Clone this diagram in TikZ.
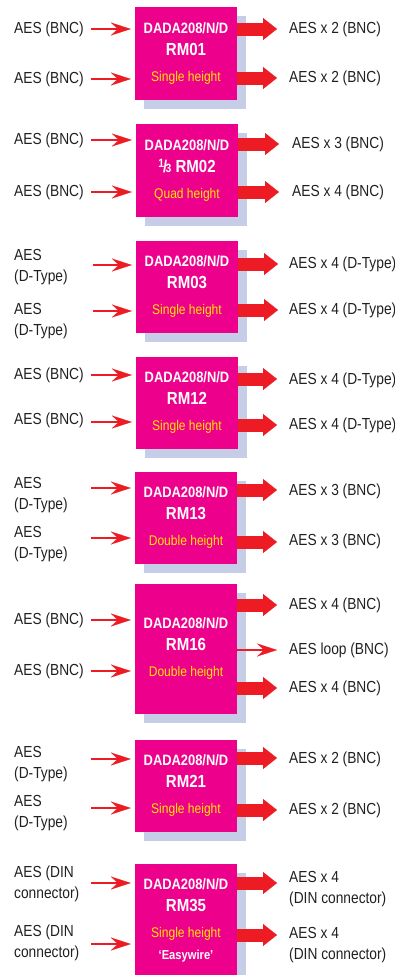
\documentclass[tikz,border=0pt]{standalone}
\usepackage{fontspec}
\setmainfont{Liberation Sans}[FakeStretch=0.86]
\usetikzlibrary{arrows.meta, shadows}
\definecolor{rmmag}{HTML}{EC008C}
\definecolor{rmshade}{HTML}{C5CEE6}
\definecolor{rmred}{HTML}{ED1C24}
\definecolor{rmyellow}{HTML}{FFE600}
\definecolor{rmtext}{HTML}{231F20}
\newcommand{\rmname}[1]{{\fontsize{17.5}{22}\selectfont #1}}
\newcommand{\rmsize}[1]{{\mdseries\fontsize{14}{22}\selectfont\color{rmyellow}#1}}
\newcommand{\third}{\raisebox{4.5pt}{\fontsize{12}{12}\selectfont 1}\kern-1pt{\fontsize{17}{17}\selectfont /}\kern-1.5pt{\fontsize{12}{12}\selectfont 3}}

\begin{document}
\begin{tikzpicture}[x=1pt, y=-1pt,
		unit/.style={rectangle, fill=rmmag, minimum width=102pt, inner sep=0pt, align=center,
			text=white, font=\fontsize{15}{22}\selectfont\bfseries,
			drop shadow={shadow xshift=9pt, shadow yshift=-9pt, fill=rmshade, opacity=1}},
		lbl/.style={anchor=west, inner sep=0pt, align=left, text=rmtext, font=\fontsize{16}{21}\selectfont},
		inarr/.style={draw=rmred, line width=2.5pt, shorten >=4pt,
			-{Stealth[length=20pt, width=13pt, inset=7pt, line width=0.1pt]}},
		outarr/.style={draw=rmred, line width=13pt, -{Triangle[length=14pt, width=22pt, line width=0.1pt]}}
	]
	\useasboundingbox (0,0) rectangle (394,975);

	% RM01
	\node[unit, minimum height=93pt] (rm01) at (186,53.5) {DADA208/N/D\\\rmname{RM01}\\[4pt]\rmsize{Single height}};
	\node[lbl] (rm01la) at (14,29) {AES (BNC)};
	\node[lbl] (rm01lb) at (14,79) {AES (BNC)};
	\coordinate (rm01ia) at (91,29); \coordinate (rm01ib) at (91,79);
	\draw[inarr] (rm01ia) -- (rm01ia -| rm01.west);
	\draw[inarr] (rm01ib) -- (rm01ib -| rm01.west);
	\coordinate (rm01oa) at (277,29); \coordinate (rm01ob) at (277,78);
	\draw[outarr] (rm01oa -| rm01.east) -- (rm01oa);
	\draw[outarr] (rm01ob -| rm01.east) -- (rm01ob);
	\node[lbl] (rm01ra) at (289,29) {AES x 2 (BNC)};
	\node[lbl] (rm01rb) at (289,78) {AES x 2 (BNC)};

	% RM02
	\node[unit, minimum height=93pt] (rm02) at (187,170.5) {DADA208/N/D\\\rmname{\third\ RM02}\\[4pt]\rmsize{Quad height}};
	\node[lbl] (rm02la) at (14,140) {AES (BNC)};
	\node[lbl] (rm02lb) at (14,192) {AES (BNC)};
	\coordinate (rm02ia) at (91,140); \coordinate (rm02ib) at (91,192);
	\draw[inarr] (rm02ia) -- (rm02ia -| rm02.west);
	\draw[inarr] (rm02ib) -- (rm02ib -| rm02.west);
	\coordinate (rm02oa) at (279,144); \coordinate (rm02ob) at (279,192);
	\draw[outarr] (rm02oa -| rm02.east) -- (rm02oa);
	\draw[outarr] (rm02ob -| rm02.east) -- (rm02ob);
	\node[lbl] (rm02ra) at (292,144) {AES x 3 (BNC)};
	\node[lbl] (rm02rb) at (292,192) {AES x 4 (BNC)};

	% RM03
	\node[unit, minimum height=92pt] (rm03) at (187,287) {DADA208/N/D\\\rmname{RM03}\\[4pt]\rmsize{Single height}};
	\node[lbl] (rm03la) at (14,267.5) {AES\\(D-Type)};
	\node[lbl] (rm03lb) at (14,321.5) {AES\\(D-Type)};
	\coordinate (rm03ia) at (93,265); \coordinate (rm03ib) at (93,311);
	\draw[inarr] (rm03ia) -- (rm03ia -| rm03.west);
	\draw[inarr] (rm03ib) -- (rm03ib -| rm03.west);
	\coordinate (rm03oa) at (278,264); \coordinate (rm03ob) at (278,310);
	\draw[outarr] (rm03oa -| rm03.east) -- (rm03oa);
	\draw[outarr] (rm03ob -| rm03.east) -- (rm03ob);
	\node[lbl] (rm03ra) at (289,264) {AES x 4 (D-Type)};
	\node[lbl] (rm03rb) at (289,310) {AES x 4 (D-Type)};

	% RM12
	\node[unit, minimum height=92pt] (rm12) at (187,403) {DADA208/N/D\\\rmname{RM12}\\[4pt]\rmsize{Single height}};
	\node[lbl] (rm12la) at (14,375) {AES (BNC)};
	\node[lbl] (rm12lb) at (14,420) {AES (BNC)};
	\coordinate (rm12ia) at (91,375); \coordinate (rm12ib) at (91,422);
	\draw[inarr] (rm12ia) -- (rm12ia -| rm12.west);
	\draw[inarr] (rm12ib) -- (rm12ib -| rm12.west);
	\coordinate (rm12oa) at (277,379); \coordinate (rm12ob) at (277,425);
	\draw[outarr] (rm12oa -| rm12.east) -- (rm12oa);
	\draw[outarr] (rm12ob -| rm12.east) -- (rm12ob);
	\node[lbl] (rm12ra) at (289,380) {AES x 4 (D-Type)};
	\node[lbl] (rm12rb) at (289,425) {AES x 4 (D-Type)};

	% RM13
	\node[unit, minimum height=92pt] (rm13) at (186,518) {DADA208/N/D\\\rmname{RM13}\\[4pt]\rmsize{Double height}};
	\node[lbl] (rm13la) at (14,495.5) {AES\\(D-Type)};
	\node[lbl] (rm13lb) at (14,544.5) {AES\\(D-Type)};
	\coordinate (rm13ia) at (91,488); \coordinate (rm13ib) at (91,538);
	\draw[inarr] (rm13ia) -- (rm13ia -| rm13.west);
	\draw[inarr] (rm13ib) -- (rm13ib -| rm13.west);
	\coordinate (rm13oa) at (277,490); \coordinate (rm13ob) at (277,542);
	\draw[outarr] (rm13oa -| rm13.east) -- (rm13oa);
	\draw[outarr] (rm13ob -| rm13.east) -- (rm13ob);
	\node[lbl] (rm13ra) at (289,491) {AES x 3 (BNC)};
	\node[lbl] (rm13rb) at (289,541) {AES x 3 (BNC)};

	% RM16
	\node[unit, minimum height=130pt] (rm16) at (186,649) {DADA208/N/D\\\rmname{RM16}\\[4pt]\rmsize{Double height}};
	\node[lbl] (rm16la) at (14,620) {AES (BNC)};
	\node[lbl] (rm16lb) at (14,671) {AES (BNC)};
	\coordinate (rm16ia) at (91,620); \coordinate (rm16ib) at (91,671);
	\draw[inarr] (rm16ia) -- (rm16ia -| rm16.west);
	\draw[inarr] (rm16ib) -- (rm16ib -| rm16.west);
	\coordinate (rm16oa) at (277,605); \coordinate (rm16oc) at (277,650); \coordinate (rm16ob) at (277,688);
	\draw[outarr] (rm16oa -| rm16.east) -- (rm16oa);
	\draw[inarr, shorten >=0pt] (rm16oc -| rm16.east) -- (rm16oc);
	\draw[outarr] (rm16ob -| rm16.east) -- (rm16ob);
	\node[lbl] (rm16ra) at (289,605) {AES x 4 (BNC)};
	\node[lbl] (rm16rc) at (289,650) {AES loop (BNC)};
	\node[lbl] (rm16rb) at (289,688) {AES x 4 (BNC)};

	% RM21
	\node[unit, minimum height=92pt] (rm21) at (186,786) {DADA208/N/D\\\rmname{RM21}\\[4pt]\rmsize{Single height}};
	\node[lbl] (rm21la) at (14,764) {AES\\(D-Type)};
	\node[lbl] (rm21lb) at (14,813) {AES\\(D-Type)};
	\coordinate (rm21ia) at (91,759); \coordinate (rm21ib) at (91,808);
	\draw[inarr] (rm21ia) -- (rm21ia -| rm21.west);
	\draw[inarr] (rm21ib) -- (rm21ib -| rm21.west);
	\coordinate (rm21oa) at (277,758); \coordinate (rm21ob) at (277,810);
	\draw[outarr] (rm21oa -| rm21.east) -- (rm21oa);
	\draw[outarr] (rm21ob -| rm21.east) -- (rm21ob);
	\node[lbl] (rm21ra) at (289,759) {AES x 2 (BNC)};
	\node[lbl] (rm21rb) at (289,810) {AES x 2 (BNC)};

	% RM35
	\node[unit, minimum height=112pt] (rm35) at (186,920) {DADA208/N/D\\\rmname{RM35}\\[4pt]\rmsize{Single height}\\{\fontsize{13}{20}\selectfont ‘Easywire’}};
	\node[lbl] (rm35la) at (14,884) {AES (DIN\\connector)};
	\node[lbl] (rm35lb) at (14,942.5) {AES (DIN\\connector)};
	\coordinate (rm35ia) at (91,883); \coordinate (rm35ib) at (91,944);
	\draw[inarr] (rm35ia) -- (rm35ia -| rm35.west);
	\draw[inarr] (rm35ib) -- (rm35ib -| rm35.west);
	\coordinate (rm35oa) at (277,883); \coordinate (rm35ob) at (277,935);
	\draw[outarr] (rm35oa -| rm35.east) -- (rm35oa);
	\draw[outarr] (rm35ob -| rm35.east) -- (rm35ob);
	\node[lbl] (rm35ra) at (289,889.5) {AES x 4\\(DIN connector)};
	\node[lbl] (rm35rb) at (289,945.5) {AES x 4\\(DIN connector)};
\end{tikzpicture}
\end{document}
